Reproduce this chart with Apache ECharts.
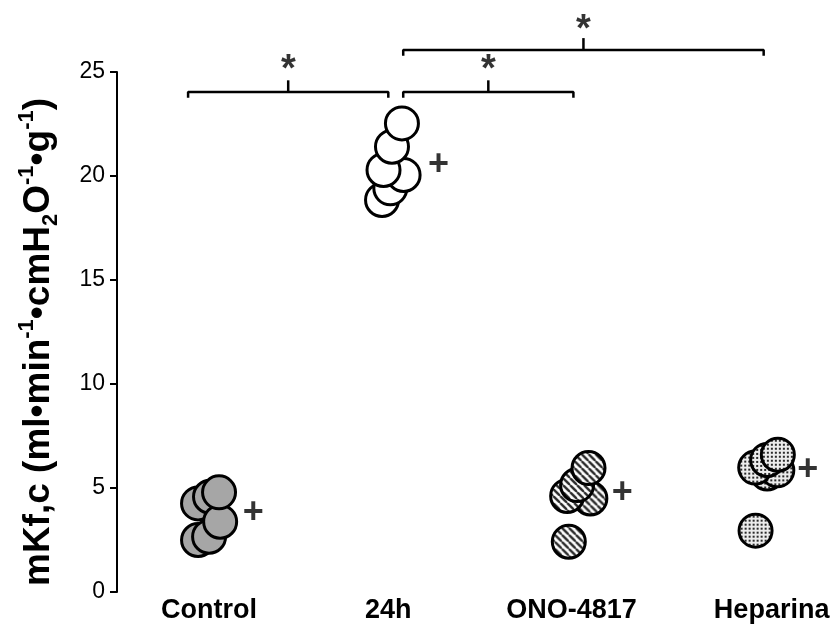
<!DOCTYPE html>
<html>
<head>
<meta charset="utf-8">
<script src="https://cdn.jsdelivr.net/npm/echarts@6/dist/echarts.min.js"></script>
<style>html,body{margin:0;padding:0;background:#fff}#c{width:839px;height:629px}</style>
</head>
<body>
<div id="c"></div>
<script>
// ---- data ----
const categories = ['Control', '24h', 'ONO-4817', 'Heparina'];
const yTicks = [0, 5, 10, 15, 20, 25];
// points as [x position (category index, 1-based, with jitter), value]
const controlPts = [[0.94, 2.5], [1.0, 2.66], [0.94, 4.26], [1.005, 4.58], [1.06, 3.38], [1.054, 4.79]];
const h24Pts = [[1.939, 18.85], [1.984, 19.41], [2.056, 20.05], [1.947, 20.29], [1.993, 21.41], [2.047, 22.53]];
const onoPts = [[2.953, 2.42], [3.07, 4.5], [2.944, 4.62], [2.998, 5.14], [3.06, 5.96]];
const hepPts = [[3.967, 2.95], [4.03, 5.7], [4.085, 5.85], [3.965, 5.98], [4.03, 6.35], [4.088, 6.6]];
// "+" markers beside each group
const plusPts = [[1.24, 3.8], [2.245, 20.53], [3.243, 4.75], [4.25, 5.87]];
// significance brackets: [xStart, xEnd, yLevel, yTop(of centre tick)]
const brackets = [[0.886, 1.973, 24.04, 24.6], [2.054, 2.978, 24.04, 24.6], [2.054, 4.011, 26.06, 26.63]];
const starPts = [[1.43, 25.45], [2.516, 25.45], [3.032, 27.4]];

const SYM = 33;
// ---- patterns (scaled back to screen pixels since symbols are unit paths scaled by size/2) ----
function stripePattern() {
  const s = 7, c = document.createElement('canvas');
  c.width = s; c.height = s;
  const g = c.getContext('2d');
  g.fillStyle = '#fff'; g.fillRect(0, 0, s, s);
  g.strokeStyle = '#2a2a2a'; g.lineWidth = 2.4;
  for (let k = -1; k <= 1; k++) {
    g.beginPath(); g.moveTo(k * s, 0); g.lineTo(k * s + s, s); g.stroke();
  }
  return { image: c, repeat: 'repeat', scaleX: 2 / SYM, scaleY: 2 / SYM };
}
function dotPattern() {
  const s = 4, c = document.createElement('canvas');
  c.width = s; c.height = s;
  const g = c.getContext('2d');
  g.fillStyle = '#ececec'; g.fillRect(0, 0, s, s);
  g.fillStyle = '#2a2a2a'; g.fillRect(1, 1, 2, 2);
  return { image: c, repeat: 'repeat', scaleX: 2 / SYM, scaleY: 2 / SYM };
}

const FONT = 'Liberation Sans, Arial, sans-serif';
function groupSeries(data, color) {
  return {
    type: 'scatter', data: data, symbol: 'circle', symbolSize: SYM,
    itemStyle: { color: color, borderColor: '#000', borderWidth: 3, opacity: 1 },
    emphasis: { disabled: true }, clip: false, z: 3
  };
}

const bracketSeries = brackets.map(b => {
  const mid = (b[0] + b[1]) / 2;
  const drop = 0.28;
  return [
    { type: 'line', data: [[b[0], b[2] - drop], [b[0], b[2]], [b[1], b[2]], [b[1], b[2] - drop]],
      symbol: 'none', clip: false, lineStyle: { color: '#000', width: 2.5 }, emphasis: { disabled: true }, z: 2 },
    { type: 'line', data: [[mid, b[2]], [mid, b[3]]],
      symbol: 'none', clip: false, lineStyle: { color: '#000', width: 2.5 }, emphasis: { disabled: true }, z: 2 }
  ];
}).flat();

const labelPad = { Control: [0, 0, 0, 0], '24h': [0, 10, 0, 0], 'ONO-4817': [0, 12, 0, 0], Heparina: [0, 0, 0, 20] };
const richX = {};
categories.forEach((c, i) => {
  richX['c' + i] = { fontSize: 27, fontWeight: 'bold', fontFamily: FONT, color: '#000', padding: labelPad[c] };
});

const chart = echarts.init(document.getElementById('c'));
chart.setOption({
  animation: false,
  backgroundColor: '#fff',
  grid: { left: 117, right: 0, top: 72, bottom: 37, containLabel: false },
  xAxis: {
    type: 'value', min: 0.5, max: 4.42, interval: 0.5,
    axisLine: { show: false }, axisTick: { show: false }, splitLine: { show: false },
    axisLabel: {
      margin: 5, color: '#000', fontSize: 27, fontWeight: 'bold', fontFamily: FONT,
      showMaxLabel: false, rich: richX,
      formatter: v => {
        const i = Math.round(v);
        return (Math.abs(v - i) < 1e-6 && i >= 1 && i <= 4) ? '{c' + (i - 1) + '|' + categories[i - 1] + '}' : '';
      }
    }
  },
  yAxis: {
    type: 'value', min: yTicks[0], max: yTicks[yTicks.length - 1], interval: 5,
    axisLine: { show: true, lineStyle: { color: '#000', width: 2 } },
    axisTick: { show: true, inside: false, length: 7, lineStyle: { color: '#000', width: 2 } },
    splitLine: { show: false },
    axisLabel: { margin: 12, color: '#000', fontSize: 23, fontFamily: FONT },
    name: '{b|mKf,c (ml•min}{sup|-1}{b|•cmH}{sub|2}{b|O}{sup|-1}{b|•g}{sup|-1}{b|)}',
    nameLocation: 'middle', nameRotate: 90, nameGap: 55,
    nameTextStyle: {
      color: '#000', fontFamily: FONT, padding: [0, 20, 0, 0],
      rich: {
        b: { fontSize: 37, fontWeight: 'bold', fontFamily: FONT, color: '#000', lineHeight: 46 },
        sup: { fontSize: 22, fontWeight: 'bold', fontFamily: FONT, color: '#000', verticalAlign: 'top' },
        sub: { fontSize: 22, fontWeight: 'bold', fontFamily: FONT, color: '#000', verticalAlign: 'bottom' }
      }
    }
  },
  series: [
    ...bracketSeries,
    groupSeries(controlPts, '#a6a6a6'),
    groupSeries(h24Pts, '#ffffff'),
    groupSeries(onoPts, stripePattern()),
    groupSeries(hepPts, dotPattern()),
    {
      type: 'scatter', data: plusPts, symbolSize: 1, itemStyle: { color: 'rgba(0,0,0,0)' }, clip: false,
      label: { show: true, position: 'inside', formatter: '+', color: '#000', fontSize: 36, fontWeight: 'bold', fontFamily: FONT },
      emphasis: { disabled: true }, z: 4
    },
    {
      type: 'scatter', data: starPts, symbolSize: 1, itemStyle: { color: 'rgba(0,0,0,0)' }, clip: false,
      label: { show: true, position: 'inside', formatter: '*', color: '#000', fontSize: 38, fontWeight: 'bold', fontFamily: FONT, offset: [0, 8] },
      emphasis: { disabled: true }, z: 4
    }
  ]
});
</script>
</body>
</html>
